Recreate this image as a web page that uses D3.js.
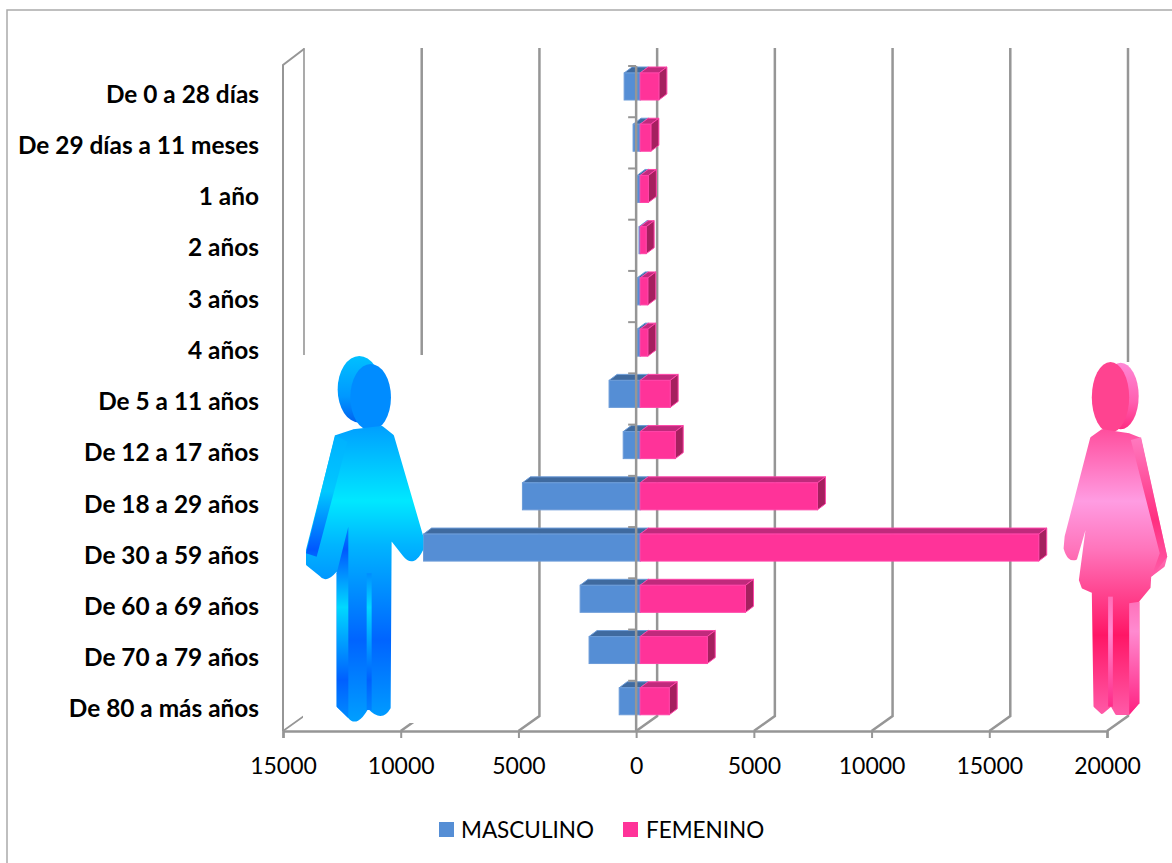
<!DOCTYPE html>
<html>
<head>
<meta charset="utf-8">
<script src="https://cdn.jsdelivr.net/npm/d3@7"></script>
<style>
  html, body { margin: 0; padding: 0; background: #fff; overflow: hidden; }
  svg { display: block; }
  text { font-family: Lato, "Open Sans", sans-serif; fill: #000; }
</style>
</head>
<body>
<svg width="1172" height="863"></svg>
<script>
// datos
const categories = ["De 0 a 28 días", "De 29 días a 11 meses", "1 año", "2 años", "3 años", "4 años",
    "De 5 a 11 años", "De 12 a 17 años", "De 18 a 29 años", "De 30 a 59 años",
    "De 60 a 69 años", "De 70 a 79 años", "De 80 a más años"];
const masculino = [680, 300, 130, 50, 130, 130, 1320, 720, 5000, 9200, 2550, 2170, 890];
const femenino = [795, 455, 350, 255, 325, 325, 1275, 1490, 7530, 16930, 4475, 2850, 1235];
const xTicks = [-15000, -10000, -5000, 0, 5000, 10000, 15000, 20000];

const svg = d3.select("svg");
const gray = "#969696";

const x = d3.scaleLinear().domain([-15000, 20000]).range([283, 1107]);
const y = d3.scaleBand().domain(categories).range([66, 732]);
const bottom = 731;

// profundidad de la pared del fondo y de las barras
const wallDx = 21, wallDy = 15;
const barDx = 8, barDy = 6;
const planeDx = 4;
const barTop = 7, barH = 27;

// borde del grafico
svg.append("path")
    .attr("d", "M1172,10H7V863")
    .attr("fill", "none")
    .attr("stroke", "#aaa")
    .attr("stroke-width", 1.5);

// rejilla del fondo
const grid = svg.append("g").attr("fill", "none").attr("stroke", gray);
grid.selectAll("path.back")
    .data(xTicks)
    .join("path")
    .attr("class", "back")
    .attr("stroke-width", d => d == -15000 ? 1.6 : 2.5)
    .attr("d", d => `M${x(d)},${bottom}L${x(d) + wallDx},${bottom - wallDy}V48`);

// pared izquierda
grid.append("path")
    .attr("stroke-width", 2)
    .attr("d", `M${x(-15000)},${bottom}V65L${x(-15000) + wallDx},49`);

// barra con cara frontal, superior y lateral
function drawBars(values, side, colors) {
    const g = svg.append("g");
    categories.forEach((c, i) => {
        const x0 = x(0) + planeDx;
        const x1 = x0 + side * (x(values[i]) - x(0));
        const y0 = y(c) + barTop;
        const y1 = y0 + barH;
        const xa = Math.min(x0, x1), xb = Math.max(x0, x1);

        g.append("path")
            .attr("fill", colors.top)
            .attr("stroke", colors.stroke)
            .attr("d", `M${xa},${y0}L${xa + barDx},${y0 - barDy}H${xb + barDx}L${xb},${y0}Z`);
        g.append("path")
            .attr("fill", colors.side)
            .attr("stroke", colors.stroke)
            .attr("d", `M${xb},${y0}L${xb + barDx},${y0 - barDy}V${y1 - barDy}L${xb},${y1}Z`);
        g.append("rect")
            .attr("x", xa)
            .attr("y", y0)
            .attr("width", xb - xa)
            .attr("height", barH)
            .attr("fill", colors.front)
            .attr("stroke", colors.stroke);
    });
}

drawBars(masculino, -1, { front: "#558ed5", top: "#3f6a9f", side: "#3f6a9f", stroke: "#6b9bd8" });

// eje vertical en el cero con sus marcas
svg.append("line")
    .attr("x1", x(0)).attr("x2", x(0))
    .attr("y1", 66).attr("y2", bottom)
    .attr("stroke", gray).attr("stroke-width", 2.5);
svg.append("g").selectAll("line")
    .data(categories)
    .join("line")
    .attr("x1", x(0) - 8).attr("x2", x(0))
    .attr("y1", d => y(d)).attr("y2", d => y(d))
    .attr("stroke", gray).attr("stroke-width", 2);

drawBars(femenino, 1, { front: "#ff3399", top: "#c02a7c", side: "#a5205f", stroke: "#ff44a8" });

// eje horizontal
const axis = svg.append("g")
    .attr("transform", `translate(0,${bottom})`)
    .call(d3.axisBottom(x).tickValues(xTicks).tickSize(7).tickPadding(20).tickFormat(d => Math.abs(d)));
axis.select(".domain").attr("stroke", gray).attr("stroke-width", 2.5);
axis.selectAll(".tick line").attr("stroke", gray).attr("stroke-width", 2);
axis.selectAll("text").attr("font-size", 23).style("font-family", "Lato").attr("fill", "#000");

// etiquetas de categoria
svg.append("g").selectAll("text")
    .data(categories)
    .join("text")
    .attr("x", 259)
    .attr("y", d => y(d) + y.bandwidth() / 2 + 2.5)
    .attr("dy", "0.35em")
    .attr("text-anchor", "end")
    .attr("font-size", 24.4)
    .attr("font-weight", 700)
    .text(d => d);

// leyenda
const legend = [
    { label: "MASCULINO", color: "#558ed5", box: 439, text: 461 },
    { label: "FEMENINO", color: "#ff3399", box: 623, text: 646 }
];
legend.forEach(l => {
    svg.append("rect").attr("x", l.box).attr("y", 822).attr("width", 15).attr("height", 15).attr("fill", l.color);
    svg.append("text").attr("x", l.text).attr("y", 838).attr("font-size", 22.5).text(l.label);
});

// figuras (imagenes sobre la rejilla, con fondo blanco)
const defs = svg.append("defs");
function gradient(id, y1, y2, stops) {
    const g = defs.append("linearGradient").attr("id", id)
        .attr("gradientUnits", "userSpaceOnUse")
        .attr("x1", 0).attr("x2", 0).attr("y1", y1).attr("y2", y2);
    stops.forEach(s => g.append("stop").attr("offset", s[0]).attr("stop-color", s[1]));
}
gradient("maleHead", 48, 250, [[0, "#00c0ff"], [0.6, "#0098ff"], [1, "#0060f0"]]);
gradient("maleBody", 260, 1150, [[0, "#00a0ff"], [0.25, "#00e8ff"], [0.4, "#00b4ff"], [0.72, "#0064ff"], [1, "#00a0ff"]]);
gradient("maleSide", 280, 1150, [[0, "#00b0ff"], [0.2, "#00c8ff"], [0.4, "#0058ff"], [0.6, "#00d8ff"], [0.85, "#0060ff"], [1, "#0090ff"]]);
gradient("femHead", 60, 270, [[0, "#ff8ad8"], [0.6, "#ff60b0"], [1, "#ff2a80"]]);
gradient("femBody", 270, 1125, [[0, "#ff4f9e"], [0.25, "#ff9ce2"], [0.42, "#ff74bb"], [0.72, "#ff1666"], [1, "#ff5aa8"]]);
gradient("femSide", 290, 1125, [[0, "#ff7ac0"], [0.3, "#ff2f80"], [0.7, "#ff8ad0"], [1, "#ff2080"]]);

svg.append("rect").attr("x", 303).attr("y", 355).attr("width", 120).attr("height", 368).attr("fill", "#fff");
svg.append("rect").attr("x", 1055).attr("y", 362).attr("width", 117).attr("height", 353).attr("fill", "#fff");

const male = svg.append("g").attr("transform", "translate(270,340) scale(0.3333)");
male.append("ellipse").attr("cx", 268).attr("cy", 148).attr("rx", 65).attr("ry", 100).attr("fill", "url(#maleHead)");
male.append("ellipse").attr("cx", 302).attr("cy", 172).attr("rx", 61).attr("ry", 100).attr("fill", "#008cff");
male.append("path").attr("fill", "url(#maleBody)")
    .attr("stroke", "url(#maleBody)").attr("stroke-width", 10).attr("stroke-linejoin", "round")
    .attr("d", "M200,290L250,273L335,263L367,288L455,590V628Q430,680 403,645L360,590L357,1103Q335,1142 300,1105L290,1105Q260,1158 238,1130L205,1098V680Q170,728 153,705L113,673V630Z");
male.append("path").attr("fill", "url(#maleSide)")
    .attr("d", "M195,285L232,305L140,650L108,640Z");
male.append("path").attr("fill", "url(#maleSide)")
    .attr("d", "M200,700L235,560V1135L200,1100Z");
male.append("path").attr("fill", "url(#maleSide)")
    .attr("d", "M290,700L305,700V1110L290,1110Z");

const female = svg.append("g").attr("transform", "translate(640,340) scale(0.3397,0.3333)");
female.append("ellipse").attr("cx", 1415).attr("cy", 168).attr("rx", 53).attr("ry", 100).attr("fill", "url(#femHead)");
female.append("ellipse").attr("cx", 1385).attr("cy", 172).attr("rx", 55).attr("ry", 106).attr("fill", "#ff4390");
female.append("path").attr("fill", "url(#femBody)")
    .attr("stroke", "url(#femBody)").attr("stroke-width", 10).attr("stroke-linejoin", "round")
    .attr("d", "M1330,295L1360,273L1440,285L1470,297L1547,650L1540,677L1500,708L1498,742L1465,782V1088L1437,1120H1403L1388,1093L1360,1117L1340,1098L1335,755L1305,742L1297,720L1325,505L1282,655Q1262,662 1252,625L1255,590Z");
female.append("path").attr("fill", "url(#femSide)")
    .attr("d", "M1445,300L1475,292L1552,650L1505,712L1530,640Z");
female.append("path").attr("fill", "url(#femSide)")
    .attr("d", "M1440,790L1470,785V1090L1440,1125Z");
female.append("path").attr("fill", "url(#femSide)")
    .attr("d", "M1378,770H1392V1100H1378Z");
</script>
</body>
</html>
